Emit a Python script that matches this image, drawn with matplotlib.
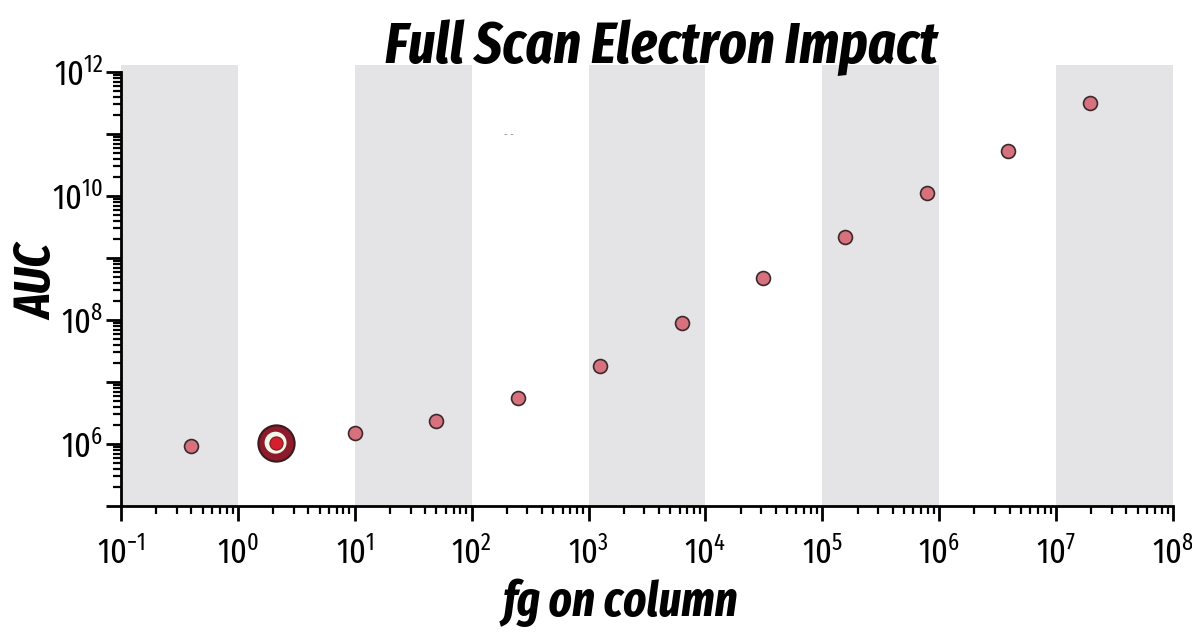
"""Full scan EI calibration: AUC vs fg on column, log-log."""
import math

import matplotlib
matplotlib.use("Agg")
import matplotlib.pyplot as plt
from matplotlib import font_manager as fm
from matplotlib.ticker import LogLocator, FuncFormatter, NullFormatter

# data
fg = [0.4, 10, 50, 250, 1250, 6250, 31250, 156250, 781250, 3.9e6, 1.95e7]
auc = [9.3e5, 1.5e6, 2.35e6, 5.5e6, 1.8e7, 9.1e7, 4.8e8, 2.2e9, 1.1e10,
       5.4e10, 3.2e11]
hi_fg = [2.1]
hi_auc = [1.05e6]
band_starts = [1e-1, 1e1, 1e3, 1e5, 1e7]
x_decades = list(range(-1, 9))
y_decades = list(range(5, 13))

names = {f.name for f in fm.fontManager.ttflist}
FAM = "Fira Sans Extra Condensed"
if FAM not in names:
    FAM = "DejaVu Sans"
plt.rcParams["font.family"] = [FAM, "DejaVu Sans"]
plt.rcParams["mathtext.fontset"] = "custom"
plt.rcParams["mathtext.rm"] = FAM
plt.rcParams["mathtext.it"] = FAM + ":italic"
plt.rcParams["mathtext.default"] = "rm"

fig = plt.figure(figsize=(11.92, 6.36), dpi=100)
ax = fig.add_axes([121 / 1192, 130 / 636, 1052 / 1192, 441 / 636])
ax.set_xscale("log")
ax.set_yscale("log")

for b in band_starts:
    ax.axvspan(b, b * 10, color="#e4e4e6", lw=0, zorder=0)

ax.scatter(fg, auc, s=100, facecolor="#d7717d", edgecolor="#3b2a2c",
           lw=1.2, zorder=3)
ax.scatter(hi_fg, hi_auc, s=680, facecolor="#8e1b2c", edgecolor="#3b1a1e",
           lw=1.5, zorder=4)
ax.scatter(hi_fg, hi_auc, s=250, facecolor="#f2f7e8", edgecolor="none",
           zorder=5)
ax.scatter(hi_fg, hi_auc, s=90, facecolor="#d41f2d", edgecolor="#7a1a22",
           lw=0.8, zorder=6)

ax.text(2.1e2, 9.6e10, "- -", color="0.55", fontsize=8, ha="center",
        va="center")

for s in ("top", "right"):
    ax.spines[s].set_visible(False)
for s in ("left", "bottom"):
    ax.spines[s].set_linewidth(2)
ax.spines["left"].set_bounds(1e5, 1e12)

ax.set_xticks([10.0 ** e for e in x_decades])
ax.set_yticks([10.0 ** e for e in y_decades])
ax.xaxis.set_minor_locator(LogLocator(base=10, subs=range(2, 10), numticks=20))
ax.yaxis.set_minor_locator(LogLocator(base=10, subs=range(2, 10), numticks=20))
ax.xaxis.set_minor_formatter(NullFormatter())
ax.yaxis.set_minor_formatter(NullFormatter())
ax.set_xlim(1e-1, 1e8)
ax.set_ylim(1e5, 1.3e12)


def xfmt(v, pos):
    e = int(round(math.log10(v)))
    return r"$10^{%d}$" % e


def yfmt(v, pos):
    e = int(round(math.log10(v)))
    return r"$10^{%d}$" % e if e % 2 == 0 and e >= 6 else ""


ax.xaxis.set_major_formatter(FuncFormatter(xfmt))
ax.yaxis.set_major_formatter(FuncFormatter(yfmt))
ax.tick_params(which="major", length=11, width=2, labelsize=25, pad=2)
ax.tick_params(axis="x", which="major", pad=11)
ax.tick_params(which="minor", length=6, width=1.6)

ax.set_xlabel("fg on column", fontsize=35, fontweight="bold",
              fontstyle="italic")
ax.xaxis.set_label_coords(0.475, -0.165)
ax.set_ylabel("AUC", fontsize=36, fontweight="bold", fontstyle="italic")
ax.yaxis.set_label_coords(-0.054, 0.508)
fig.text(661 / 1192, 0.969, "Full Scan Electron Impact", ha="center",
         va="top", fontsize=42, fontweight="bold", fontstyle="italic")

fig.savefig("out.png", dpi=100)
